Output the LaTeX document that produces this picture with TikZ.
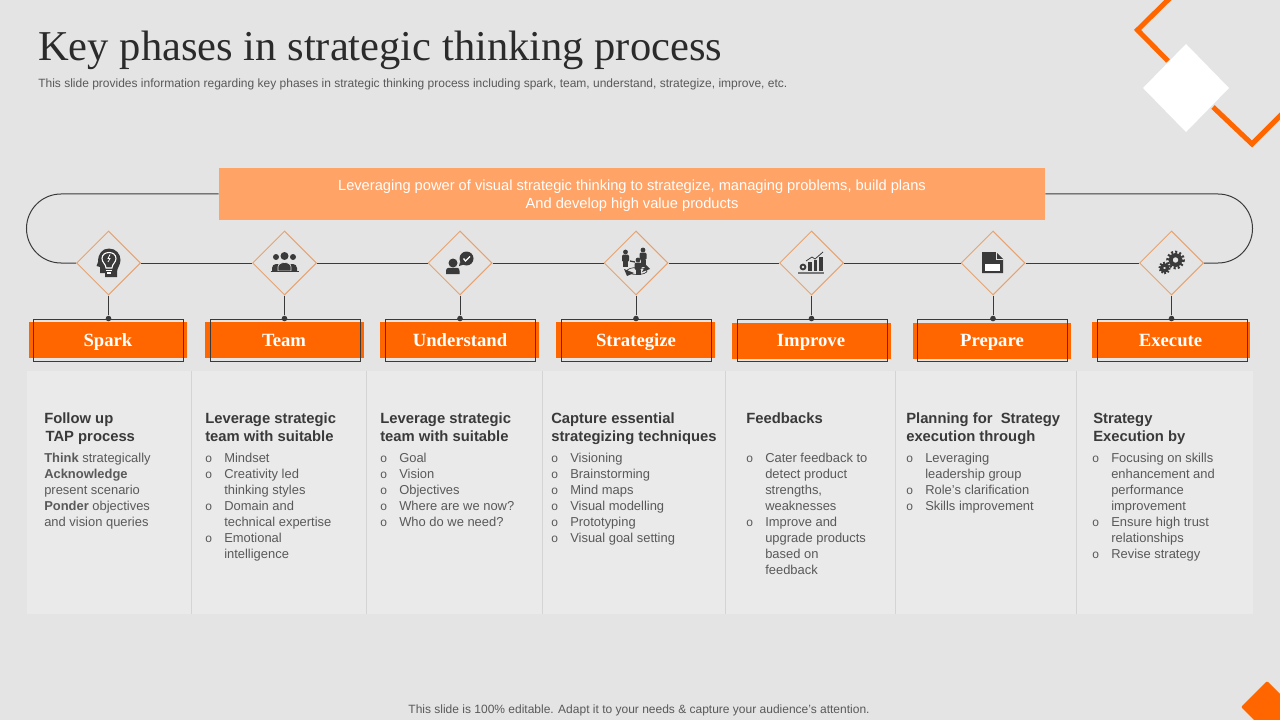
\documentclass[tikz,border=0pt]{standalone}
\usepackage{fontspec}
\setmainfont{Liberation Sans}
\newfontfamily\serifhead{Liberation Serif}
\usetikzlibrary{positioning}
\usetikzlibrary{shapes.geometric}
\definecolor{slidebg}{HTML}{E4E4E4}
\definecolor{panelbg}{HTML}{EAEAEA}
\definecolor{panelrule}{HTML}{D4D4D4}
\definecolor{hotorange}{HTML}{FF6600}
\definecolor{softorange}{HTML}{FFA366}
\definecolor{inkdark}{HTML}{3A3A3A}
\definecolor{titleink}{HTML}{2B2B2B}
\definecolor{bodygrey}{HTML}{595959}
\tikzstyle{phase_dia}=[diamond, draw=hotorange!45!slidebg!80!brown, line width=.75pt, minimum width=48pt, minimum height=48pt, inner sep=0pt]
\tikzstyle{phase_fill}=[fill=hotorange, minimum width=118.9pt, minimum height=27pt, inner sep=0pt]
\tikzstyle{phase_name}=[inner sep=0pt, anchor=base, text=white, font=\serifhead\bfseries\fontsize{14}{16}\selectfont]
\tikzstyle{phase_box}=[draw=inkdark, line width=.7pt, minimum width=112.5pt, minimum height=31.5pt, inner sep=0pt]
\tikzstyle{phase_dot}=[circle, fill=inkdark, minimum size=4.2pt, inner sep=0pt]
\tikzstyle{phase_head}=[anchor=north west, inner sep=0pt, align=left, text=inkdark, font=\bfseries\fontsize{11.1}{13.5}\selectfont]
\tikzstyle{phase_body}=[anchor=north west, inner sep=0pt, align=left, text=bodygrey, font=\fontsize{9.7}{12}\selectfont]
\tikzstyle{wire}=[draw=inkdark, line width=.75pt]
\tikzstyle{ink}=[fill=inkdark, draw=none]
\newcommand{\bul}{\makebox[14.25pt][l]{\fontsize{9}{12}\selectfont o}}
\newcommand{\ind}{\hspace*{14.25pt}}
\begin{document}
\begin{tikzpicture}[x=.75pt,y=-.75pt]
\useasboundingbox (0,0) rectangle (1280,720);
\fill[slidebg] (0,0) rectangle (1280,720);
\draw[hotorange, line width=3.75pt] (1170,-2) -- (1137.5,30) -- (1168,61);
\draw[hotorange, line width=3.75pt] (1213,107) -- (1252,144) -- (1282,114);
\fill[white] (1186,44) -- (1229,88) -- (1186,132) -- (1143,88) -- cycle;
\fill[hotorange, rounded corners=1pt] (1267,681) -- (1293,707) -- (1267,733) -- (1241,707) -- cycle;
\node[anchor=base west, inner sep=0pt, text=titleink, font=\serifhead\fontsize{31.9}{36}\selectfont] (title) at (38,61) {Key phases in strategic thinking process};
\node[anchor=base west, inner sep=0pt, text=bodygrey, font=\fontsize{9}{11}\selectfont] (subtitle) at (38,88) {This slide provides information regarding key phases in strategic thinking process including spark, team, understand, strategize, improve, etc.};
\node[anchor=base, inner sep=0pt, text=bodygrey, font=\fontsize{9}{11}\selectfont] (footer) at (639,713) {This slide is 100\% editable. Adapt it to your needs \& capture your audience’s attention.};
\fill[panelbg] (27,371) rectangle (1253,614);
\foreach \x in {191.5,366.5,542.5,725.5,895.5,1076.5}
  \draw[panelrule, line width=.75pt] (\x,371) -- (\x,614);
\node[fill=softorange, minimum width=619.5pt, minimum height=39pt, inner sep=0pt] (banner) at (632,194) {};
\node[inner sep=0pt, text=white, align=center, font=\fontsize{11}{13.5}\selectfont] (bannertext) at (632,195.5) {Leveraging power of visual strategic thinking to strategize, managing problems, build plans\\And develop high value products};
\node[phase_dia] (dia0) at (108.5,263) {};
\node[phase_dia] (dia1) at (284.5,263) {};
\node[phase_dia] (dia2) at (460,263) {};
\node[phase_dia] (dia3) at (636,263) {};
\node[phase_dia] (dia4) at (811.5,263) {};
\node[phase_dia] (dia5) at (993,263) {};
\node[phase_dia] (dia6) at (1171.5,263) {};
\draw[wire](dia0) -- (dia1);
\draw[wire](dia1) -- (dia2);
\draw[wire](dia2) -- (dia3);
\draw[wire](dia3) -- (dia4);
\draw[wire](dia4) -- (dia5);
\draw[wire](dia5) -- (dia6);
\draw[wire](banner.west |- 0,194) -- (61,194) arc[start angle=270, end angle=90, radius=34.5] -- (dia0.west);
\draw[wire](banner.east |- 0,194) -- (1218,194) arc[start angle=270, end angle=450, radius=34.5] -- (dia6.east);
\node[phase_fill] (fill0) at (108,340) {};
\node[phase_fill] (fill1) at (284.5,340) {};
\node[phase_fill] (fill2) at (459.5,340) {};
\node[phase_fill] (fill3) at (635.5,340) {};
\node[phase_fill] (fill4) at (811.5,341) {};
\node[phase_fill] (fill5) at (992,341) {};
\node[phase_fill] (fill6) at (1171,340) {};
\node[phase_name] (name0) at (108,346.8) {Spark};
\node[phase_name] (name1) at (284,346.8) {Team};
\node[phase_name] (name2) at (460,346.8) {Understand};
\node[phase_name] (name3) at (636,346.8) {Strategize};
\node[phase_name] (name4) at (811,346.8) {Improve};
\node[phase_name] (name5) at (992,346.8) {Prepare};
\node[phase_name] (name6) at (1170.5,346.8) {Execute};
\node[phase_box] (box0) at (108,340) {};
\node[phase_box] (box1) at (285,340) {};
\node[phase_box] (box2) at (460,340) {};
\node[phase_box] (box3) at (636,340) {};
\node[phase_box] (box4) at (812,340) {};
\node[phase_box] (box5) at (992.5,340) {};
\node[phase_box] (box6) at (1172,340) {};
\foreach \i in {0,...,6}{
  \node[phase_dot] (dot\i) at (dia\i.south |- box\i.north) {};
  \draw[wire](dia\i) -- (dot\i);
}
% bulb head
\fill[ink] (98,262) .. controls (98,254) and (102,248.5) .. (109,248.5) .. controls (116,248.5) and (120.5,254) .. (120.5,260) .. controls (120.5,265) and (117,268) .. (117,272) -- (117,277) -- (105,277) -- (105,273) -- (100,273) -- (100,267) -- (96.5,266) -- cycle;
\draw[white, line width=.8pt] (106,268) .. controls (106,264) and (102,262.5) .. (102,258.5) .. controls (102,250.5) and (116,250.5) .. (116,258.5) .. controls (116,262.5) and (112,264) .. (112,268) -- cycle;
\draw[white, line width=.8pt] (106,270.5) -- (112,270.5) (107,273) -- (111,273);
\draw[white, line width=.6pt] (110,254.5) -- (108,258.5) -- (110,258.5) -- (108,262);
% team
\foreach \x/\r in {276/3,293/3,284.5/4}
  \fill[ink] (\x,{259-\r+1}) circle[radius=\r];
\fill[ink] (272,271) -- (272,268) .. controls (272,263) and (280,263) .. (280,266) -- (280,271) -- cycle;
\fill[ink] (297,271) -- (297,268) .. controls (297,263) and (289,263) .. (289,266) -- (289,271) -- cycle;
\fill[ink,draw=slidebg,line width=.5pt] (278,271) -- (278,267) .. controls (278,261) and (291,261) .. (291,267) -- (291,271) -- cycle;
\draw[inkdark, line width=.6pt] (270.5,271.5) -- (298.5,271.5);
% speech person
\fill[ink] (453,263) circle[radius=4.5];
\fill[ink] (446,274) -- (446,271) .. controls (446,267) and (449,268) .. (453,268) .. controls (457,268) and (459.5,267) .. (459.5,271) -- (459.5,274) -- cycle;
\fill[ink] (466.5,258.5) circle[radius=7];
\fill[ink] (460,262) -- (459,266) -- (464,264.5) -- cycle;
\draw[white, line width=1pt] (463.5,258.5) -- (465.5,261) -- (470,256.5);
% strategize
\draw[inkdark, line width=.5pt] (637,271) ellipse[x radius=10, y radius=3.5];
\foreach \x/\y/\b in {625.5/252/15,643/250/17,638/260/15}{
  \fill[ink] (\x,\y) circle[radius=2.4];
  \fill[ink, rounded corners=1pt] (\x-3.5,\y+2.5) rectangle (\x+3.5,\y+10);
  \fill[ink] (\x-2.5,\y+10) rectangle (\x+2.5,\y+\b);
}
\draw[inkdark, line width=1pt] (630,261) -- (635,262);
\fill[ink] (642,272) -- (650,269) -- (646,265) -- cycle;
\fill[ink] (624,269) -- (634,273) -- (627,276) -- cycle;
% chart
\draw[inkdark, line width=1.4pt] (803,267) circle[radius=2.4];
\foreach \x/\y in {810/262,815.5/260,821/257}
  \fill[ink] (\x-1.7,\y) rectangle (\x+1.7,270.5);
\draw[inkdark, line width=.6pt] (806,261) -- (812,257) -- (815,259) -- (823,252);
\fill[inkdark!65!slidebg] (798,272) rectangle (824,274);
% save file
\fill[ink] (982,252) -- (996,252) -- (1003,259) -- (1003,273) -- (982,273) -- cycle;
\fill[white] (985,264) rectangle (1000,271);
\draw[slidebg, line width=.5pt] (996,252) -- (996,259) -- (1003,259);
% gears
\draw[inkdark, line width=3pt] (1175.5,260) circle[radius=5];
\draw[inkdark, line width=2pt, dash pattern=on 1.5pt off 1.6pt] (1175.5,260) circle[radius=8];
\draw[inkdark, line width=2.5pt] (1164.5,268) circle[radius=3];
\draw[inkdark, line width=1.5pt, dash pattern=on 1.2pt off 1.2pt] (1164.5,268) circle[radius=5.2];
% text
\node[phase_head] (head0) at (44,413) {Follow up\\\hspace*{1pt}TAP process};
\node[phase_head] (head1) at (205,413) {Leverage strategic\\team with suitable};
\node[phase_head] (head2) at (380,413) {Leverage strategic\\team with suitable};
\node[phase_head] (head3) at (551,413) {Capture essential\\strategizing techniques};
\node[phase_head] (head4) at (746,413) {Feedbacks};
\node[phase_head] (head5) at (906,413) {Planning for\ \ Strategy\\execution through};
\node[phase_head] (head6) at (1093,413) {Strategy\\Execution by};
\node[phase_body] (body0) at (44,453) {\textbf{Think} strategically\\\textbf{Acknowledge}\\present scenario\\\textbf{Ponder} objectives\\and vision queries};
\node[phase_body] (body1) at (205,453) {\bul Mindset\\\bul Creativity led\\\ind thinking styles\\\bul Domain and\\\ind technical expertise\\\bul Emotional\\\ind intelligence};
\node[phase_body] (body2) at (380,453) {\bul Goal\\\bul Vision\\\bul Objectives\\\bul Where are we now?\\\bul Who do we need?};
\node[phase_body] (body3) at (551,453) {\bul Visioning\\\bul Brainstorming\\\bul Mind maps\\\bul Visual modelling\\\bul Prototyping\\\bul Visual goal setting};
\node[phase_body] (body4) at (746,453) {\bul Cater feedback to\\\ind detect product\\\ind strengths,\\\ind weaknesses\\\bul Improve and\\\ind upgrade products\\\ind based on\\\ind feedback};
\node[phase_body] (body5) at (906,453) {\bul Leveraging\\\ind leadership group\\\bul Role's clarification\\\bul Skills improvement};
\node[phase_body] (body6) at (1092,453) {\bul Focusing on skills\\\ind enhancement and\\\ind performance\\\ind improvement\\\bul Ensure high trust\\\ind relationships\\\bul Revise strategy};
\end{tikzpicture}
\end{document}
